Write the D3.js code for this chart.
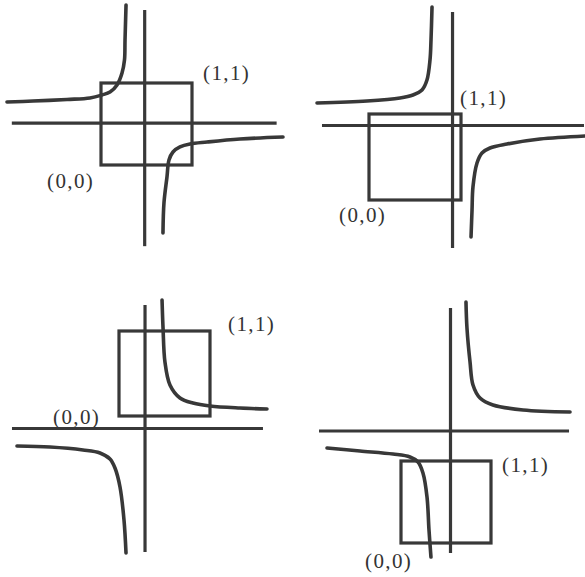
<!DOCTYPE html>
<html>
<head>
<meta charset="utf-8">
<script src="https://cdn.jsdelivr.net/npm/d3@7"></script>
<style>
  html, body { margin: 0; padding: 0; background: #fff; }
  svg { display: block; }
</style>
</head>
<body>
<svg id="chart" width="585" height="577"></svg>
<script>
// ---- Data (in each panel's unit coordinates: the square is (0,0)-(1,1)) ----
const panelNames = ["A", "B", "C", "D"];
const cornerLabels = ["(0,0)", "(1,1)"];

// axis lines: [position, from, to]
const axisX_A = [0.51, -0.98, 1.93];   // horizontal axis: y value, x from, x to
const axisY_A = [0.48, -0.99, 1.89];   // vertical axis: x value, y from, y to
const branch1_A = [[0.275,1.951],[0.264,1.524],[0.258,1.280],[0.231,1.122],[0.176,0.976],[0.099,0.890],[0.011,0.854],[-0.121,0.817],[-0.374,0.799],[-0.747,0.780],[-1.033,0.768]];
const branch2_A = [[0.681,-0.829],[0.692,-0.463],[0.725,-0.146],[0.747,0.061],[0.791,0.159],[0.868,0.220],[0.978,0.256],[1.165,0.280],[1.527,0.317],[2.000,0.341]];

const axisX_B = [0.866, -0.511, 2.337];
const axisY_B = [0.908, -0.558, 2.186];
const branch1_B = [[0.685,2.244],[0.674,1.860],[0.663,1.628],[0.630,1.395],[0.576,1.279],[0.478,1.221],[0.337,1.186],[-0.022,1.151],[-0.565,1.128]];
const branch2_B = [[1.109,-0.430],[1.120,-0.116],[1.130,0.151],[1.174,0.430],[1.228,0.547],[1.315,0.605],[1.500,0.651],[1.859,0.709],[2.348,0.744]];

const axisX_C = [-0.147, -1.176, 1.582];
const axisY_C = [0.286, -1.600, 1.306];
const branch1_C = [[0.473,1.365],[0.484,1.035],[0.505,0.635],[0.560,0.365],[0.670,0.212],[0.813,0.153],[1.000,0.118],[1.330,0.094],[1.626,0.082]];
const branch2_C = [[-1.121,-0.353],[-0.758,-0.365],[-0.396,-0.400],[-0.209,-0.435],[-0.099,-0.506],[-0.044,-0.612],[0.011,-0.835],[0.055,-1.224],[0.077,-1.612]];

const axisX_D = [1.366, -0.911, 1.867];
const axisY_D = [0.55, -0.122, 2.866];
const branch1_D = [[0.722,2.939],[0.733,2.622],[0.767,2.207],[0.800,1.927],[0.878,1.768],[1.022,1.683],[1.356,1.622],[1.878,1.598]];
const branch2_D = [[-0.822,1.159],[-0.456,1.122],[-0.089,1.085],[0.100,1.049],[0.189,0.988],[0.244,0.854],[0.289,0.561],[0.311,0.159],[0.333,-0.171]];

const squareCorners = [[0,0],[1,1]];

// ---- Layout (pixels) ----
const layout = {
  A: { x: [101, 192], y: [165, 83],  lab00: [-54, 23], lab11: [11, -3] },
  B: { x: [369, 461], y: [200, 114], lab00: [-30, 22], lab11: [-1, -9] },
  C: { x: [119, 210], y: [416, 331], lab00: [-66, 8],  lab11: [18, 0] },
  D: { x: [401, 491], y: [543, 461], lab00: [-36, 25], lab11: [11, 11] }
};
const data = {
  A: { ax: axisX_A, ay: axisY_A, branches: [branch1_A, branch2_A] },
  B: { ax: axisX_B, ay: axisY_B, branches: [branch1_B, branch2_B] },
  C: { ax: axisX_C, ay: axisY_C, branches: [branch1_C, branch2_C] },
  D: { ax: axisX_D, ay: axisY_D, branches: [branch1_D, branch2_D] }
};

const ink = "#383838";
const svg = d3.select("#chart");

panelNames.forEach(name => {
  const L = layout[name], D = data[name];
  const x = d3.scaleLinear().domain([0, 1]).range(L.x);
  const y = d3.scaleLinear().domain([0, 1]).range(L.y);
  const g = svg.append("g");

  // horizontal axis line
  g.append("line")
    .attr("x1", x(D.ax[1])).attr("x2", x(D.ax[2]))
    .attr("y1", y(D.ax[0])).attr("y2", y(D.ax[0]))
    .attr("stroke", ink).attr("stroke-width", 3.2);
  // vertical axis line
  g.append("line")
    .attr("x1", x(D.ay[0])).attr("x2", x(D.ay[0]))
    .attr("y1", y(D.ay[1])).attr("y2", y(D.ay[2]))
    .attr("stroke", ink).attr("stroke-width", 3.2);

  // unit square
  const [c0, c1] = squareCorners;
  g.append("rect")
    .attr("x", x(c0[0])).attr("y", y(c1[1]))
    .attr("width", x(c1[0]) - x(c0[0]))
    .attr("height", y(c0[1]) - y(c1[1]))
    .attr("fill", "none").attr("stroke", ink).attr("stroke-width", 3.2);

  // hyperbola branches
  const line = d3.line().x(d => x(d[0])).y(d => y(d[1])).curve(d3.curveCatmullRom.alpha(0.5));
  D.branches.forEach(b => {
    g.append("path").attr("d", line(b))
      .attr("fill", "none").attr("stroke", ink)
      .attr("stroke-width", 3.6).attr("stroke-linecap", "round");
  });

  // corner labels
  g.append("text")
    .attr("x", x(c0[0]) + L.lab00[0]).attr("y", y(c0[1]) + L.lab00[1])
    .text(cornerLabels[0]);
  g.append("text")
    .attr("x", x(c1[0]) + L.lab11[0]).attr("y", y(c1[1]) + L.lab11[1])
    .text(cornerLabels[1]);
});

svg.selectAll("text")
  .attr("font-family", "'Liberation Serif', 'Times New Roman', serif")
  .attr("font-size", 21)
  .attr("letter-spacing", 1.4)
  .attr("fill", "#333");
</script>
</body>
</html>
